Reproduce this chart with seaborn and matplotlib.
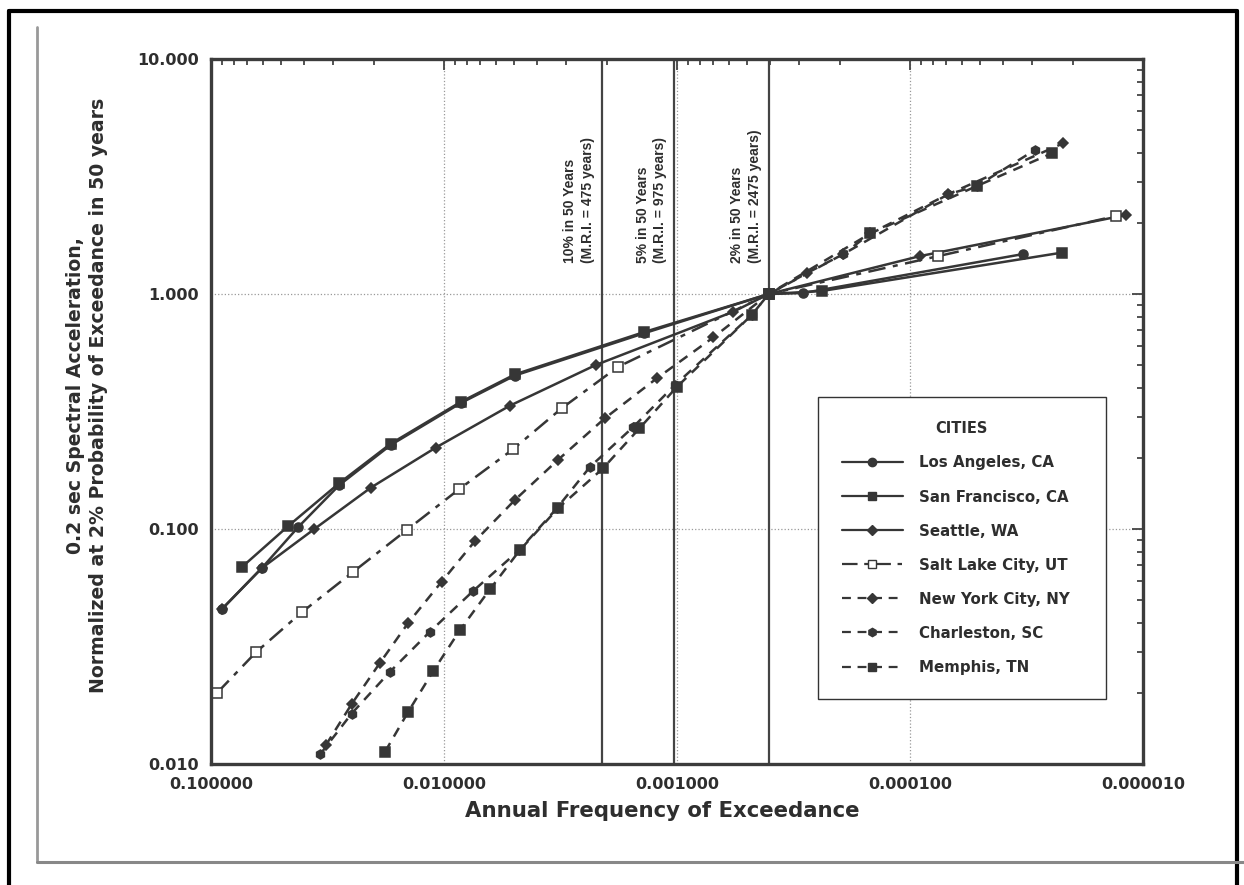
import numpy as np
import pandas as pd
import seaborn as sns
import matplotlib.pyplot as plt
from matplotlib.lines import Line2D
from matplotlib.ticker import FixedLocator, LogLocator, FuncFormatter, NullFormatter

sns.set_style("white")
plt.rcParams['font.family'] = ['Liberation Sans', 'DejaVu Sans']

# annual frequency of exceedance (x) and normalized 0.2 sec SA (y)
la_freq = [0.0900, 0.0606, 0.0422, 0.0281, 0.0169, 0.00845, 0.00496, 0.00139, 0.000404, 0.000287, 0.0000326]
la_sa = [0.0455, 0.0681, 0.102, 0.154, 0.228, 0.344, 0.450, 0.680, 1.0, 1.01, 1.48]

sf_freq = [0.0734, 0.0466, 0.0281, 0.0169, 0.00845, 0.00496, 0.00139, 0.000404, 0.000239, 0.0000223]
sf_sa = [0.0691, 0.103, 0.157, 0.231, 0.348, 0.455, 0.688, 1.0, 1.03, 1.50]

sea_freq = [0.0900, 0.0606, 0.0360, 0.0206, 0.01085, 0.00521, 0.00223, 0.000573, 0.000404, 0.0000906, 0.0000118]
sea_sa = [0.0455, 0.0681, 0.100, 0.150, 0.222, 0.335, 0.499, 0.841, 1.0, 1.45, 2.17]

slc_freq = [0.0945, 0.0641, 0.0408, 0.0245, 0.01446, 0.00859, 0.00507, 0.00313, 0.00179, 0.000404, 0.0000756, 0.0000130]
slc_sa = [0.0200, 0.0299, 0.0442, 0.0658, 0.099, 0.148, 0.218, 0.326, 0.490, 1.0, 1.45, 2.15]

ny_freq = [0.0321, 0.0249, 0.0188, 0.01423, 0.01023, 0.00736, 0.00496, 0.00324, 0.00204, 0.00122, 0.000698,
           0.000404, 0.000278, 0.000193, 0.000148, 0.0000685, 0.0000220]
ny_sa = [0.01205, 0.0180, 0.0270, 0.0399, 0.0597, 0.0889, 0.133, 0.197, 0.296, 0.438, 0.654,
         1.0, 1.225, 1.48, 1.81, 2.66, 4.38]

chs_freq = [0.0340, 0.0249, 0.01705, 0.01148, 0.00748, 0.00475, 0.00328, 0.00236, 0.00154, 0.00102, 0.000478,
            0.000404, 0.000193, 0.0000685, 0.0000517, 0.0000291]
chs_sa = [0.0110, 0.0164, 0.0247, 0.0366, 0.0546, 0.0814, 0.1225, 0.184, 0.272, 0.410, 0.814,
          1.0, 1.48, 2.66, 2.88, 4.10]

mem_freq = [0.0179, 0.01423, 0.01111, 0.00853, 0.00635, 0.00472, 0.00324, 0.00208, 0.00145, 0.00100, 0.000478,
            0.000404, 0.000148, 0.0000517, 0.0000246]
mem_sa = [0.01128, 0.0167, 0.0249, 0.0372, 0.0554, 0.0814, 0.1225, 0.181, 0.268, 0.403, 0.814,
          1.0, 1.81, 2.88, 3.97]

cities = ["Los Angeles, CA", "San Francisco, CA", "Seattle, WA", "Salt Lake City, UT",
          "New York City, NY", "Charleston, SC", "Memphis, TN"]
freqs = [la_freq, sf_freq, sea_freq, slc_freq, ny_freq, chs_freq, mem_freq]
sas = [la_sa, sf_sa, sea_sa, slc_sa, ny_sa, chs_sa, mem_sa]

return_periods = [475, 975, 2475]
rp_labels = ["10% in 50 Years\n(M.R.I. = 475 years)",
             "5% in 50 Years\n(M.R.I. = 975 years)",
             "2% in 50 Years\n(M.R.I. = 2475 years)"]

df = pd.concat([pd.DataFrame({"city": c, "freq": f, "sa": s}) for c, f, s in zip(cities, freqs, sas)])

ink = "#363636"
txt = "#2e2e2e"
solid = "-"
dashdot = (0, (7, 3, 2, 3))
dashed = (0, (4, 3))
styles = {
    "Los Angeles, CA": ("o", solid, ink),
    "San Francisco, CA": ("s", solid, ink),
    "Seattle, WA": ("D", solid, ink),
    "Salt Lake City, UT": ("s", dashdot, "white"),
    "New York City, NY": ("D", dashed, ink),
    "Charleston, SC": ("h", dashed, ink),
    "Memphis, TN": ("s", dashed, ink),
}

fig = plt.figure(figsize=(12.44, 8.85), dpi=100)
ax = fig.add_axes([0.1696, 0.1367, 0.7492, 0.7966])

for c in cities:
    mk, ls, fc = styles[c]
    sns.lineplot(data=df[df.city == c], x="freq", y="sa", ax=ax, estimator=None, sort=False,
                 color=ink, linestyle=ls, linewidth=1.8, marker=mk, markersize=6.5 if mk != "D" else 5.5,
                 markerfacecolor=fc, markeredgecolor=ink, markeredgewidth=1.1, label=c)

ax.set_xscale("log")
ax.set_yscale("log")
ax.set_xlim(0.1, 0.00001)
ax.set_ylim(0.01, 10)

for rp, lab in zip(return_periods, rp_labels):
    ax.axvline(1.0 / rp, color="#444444", lw=1.6, zorder=1)
    ax.annotate(lab, xy=(1.0 / rp, 1.35), xytext=(-5, 0), textcoords="offset points",
                rotation=90, ha="right", va="bottom", multialignment="left",
                fontsize=10, fontweight="bold", color=txt, linespacing=1.35)

ax.xaxis.set_major_locator(FixedLocator([0.1, 0.01, 0.001, 0.0001, 0.00001]))
ax.yaxis.set_major_locator(FixedLocator([0.01, 0.1, 1, 10]))
ax.xaxis.set_minor_locator(LogLocator(base=10, subs=np.arange(2, 10), numticks=20))
ax.yaxis.set_minor_locator(LogLocator(base=10, subs=np.arange(2, 10), numticks=20))
ax.xaxis.set_minor_formatter(NullFormatter())
ax.yaxis.set_minor_formatter(NullFormatter())
ax.xaxis.set_major_formatter(FuncFormatter(lambda v, p: f"{v:.6f}"))
ax.yaxis.set_major_formatter(FuncFormatter(lambda v, p: f"{v:.3f}"))

ax.tick_params(which="both", direction="in", top=True, right=True, color="#444444", width=1.3)
ax.tick_params(which="major", length=8, labelsize=11.5, pad=9, labelcolor=txt)
ax.tick_params(which="minor", length=4.5)
for t in ax.get_xticklabels() + ax.get_yticklabels():
    t.set_fontweight("bold")
    t.set_family(["DejaVu Sans"])

ax.grid(True, which="major", ls=":", color="#999999", lw=0.9)
for sp in ax.spines.values():
    sp.set_linewidth(2.4)
    sp.set_color("#3c3c3c")

ax.set_xlabel("Annual Frequency of Exceedance", fontsize=15.3, fontweight="bold", color=txt,
              family=["DejaVu Sans"])
ax.xaxis.set_label_coords(0.484, -0.052)
ax.set_ylabel("0.2 sec Spectral Acceleration,\nNormalized at 2% Probability of Exceedance in 50 years",
              fontsize=13.6, fontweight="bold", color=txt, linespacing=1.25,
              family=["DejaVu Sans"])
ax.yaxis.set_label_coords(-0.111, 0.523)

handles = []
for c in cities:
    mk, ls, fc = styles[c]
    handles.append(Line2D([], [], color=ink, linestyle=ls, linewidth=1.6, marker=mk,
                          markersize=6 if mk != "D" else 5, markerfacecolor=fc, markeredgecolor=ink))
leg = ax.legend(handles, cities, title="CITIES", loc="upper left", bbox_to_anchor=(0.651, 0.1, 0.309, 0.42),
                mode="expand", frameon=True, fancybox=False, edgecolor="#333333", framealpha=1,
                prop={"family": ["DejaVu Sans"], "weight": "bold", "size": 10.8},
                labelspacing=1.27, handlelength=4.1, handletextpad=1.07, borderpad=1.6, borderaxespad=0)
leg.get_title().set_fontweight("bold")
leg.get_title().set_fontsize(10.5)
leg.get_title().set_color(txt)
leg.get_title().set_family(["DejaVu Sans"])
for t in leg.get_texts():
    t.set_color(txt)
leg.get_frame().set_linewidth(1.0)

# scanned page frame
fig.add_artist(Line2D([0.0072, 0.0072], [0.0, 0.988], transform=fig.transFigure, color="black", lw=3))
fig.add_artist(Line2D([0.0072, 0.9944], [0.988, 0.988], transform=fig.transFigure, color="black", lw=3))
fig.add_artist(Line2D([0.9944, 0.9944], [0.0, 0.988], transform=fig.transFigure, color="black", lw=3))
fig.add_artist(Line2D([0.0297, 0.0297], [0.026, 0.969], transform=fig.transFigure, color="#999999", lw=2))
fig.add_artist(Line2D([0.0297, 1.0], [0.026, 0.026], transform=fig.transFigure, color="#888888", lw=2.2))

fig.savefig("out.png", dpi=100)
